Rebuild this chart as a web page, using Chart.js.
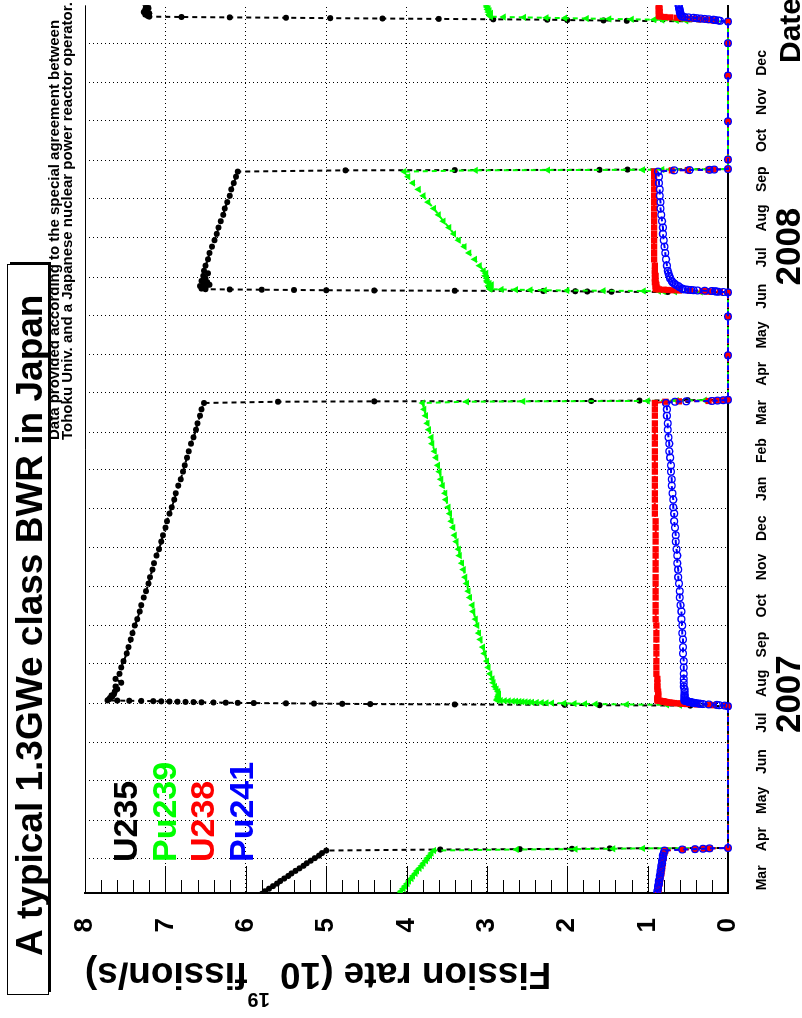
<!DOCTYPE html>
<html>
<head>
<meta charset="utf-8">
<title>A typical 1.3GWe class BWR in Japan</title>
<script src="https://cdn.jsdelivr.net/npm/chart.js@4.4.1/dist/chart.umd.min.js"></script>
<style>
  html, body { margin: 0; padding: 0; background: #fff; overflow: hidden; }
  /* the plot is drawn upright and then turned a quarter turn to the left */
  #plot { position: absolute; left: 0; top: 0; width: 1018px; height: 802px;
          transform-origin: 0 0; transform: translate(0, 1018px) rotate(-90deg); }
</style>
</head>
<body>
<div id="plot"><canvas id="rateChart" width="1018" height="802"></canvas></div>
<script>
// Dates as days counted from 1 March 2007
const days = [
  1, 3, 5, 7, 9, 11, 13, 15, 17, 19, 21, 23, 25, 27, 29, 31, 33, 35, 37,            // end of cycle
  37.8, 38.1, 38.4, 38.7, 39.0,                                                      // shutdown
  150.5,                                                                              // outage
  151.0, 151.3, 151.6, 151.9, 152.2, 152.4, 152.6, 152.8, 153.0, 153.15, 153.3, 153.45, // start-up
  153.6, 153.75, 153.9, 154.05, 154.2, 154.35, 154.5, 154.65, 154.8, 154.95, 155.1,
  156, 157, 158, 159, 160, 162, 164, 166, 169, 172, 176, 181, 186, 192, 197, 203,
  208, 214, 219, 225, 230, 236, 241, 247, 252, 258, 263, 269, 274, 280, 285, 291, 296,
  302, 307, 313, 318, 324, 329, 335, 340, 346, 351, 357, 362, 368, 373, 379, 384, 389,
  390.0, 390.3, 390.6, 390.9, 391.2, 391.5,                                          // shutdown
  426.5, 457.0, 476.0,                                                                // outage
  476.3, 476.5, 476.7, 476.9, 477.1, 477.3, 477.5, 477.7, 477.9, 478.1, 478.3, 478.5, // start-up
  479, 480, 481, 482, 483, 484, 485, 487, 489, 491, 493, 497,
  502, 507, 512, 517, 522, 527, 532, 537, 542, 547, 552, 557, 562, 567, 571,
  572.0, 572.2, 572.4, 572.6, 573.0,                                                 // shutdown
  580.5, 610.5, 646.5, 672.0, 689.0,                                                 // outage
  689.6, 689.9, 690.2, 690.5, 690.8, 691.1, 691.4, 691.7, 692.0, 692.3, 692.6, 692.9, // start-up
  693.5, 694.5, 695.5, 696.5, 697.5, 698.5, 699.5, 700.5, 701.5, 702.5
];

// Fission rates, 10^19 fission/s
const u235 = [
  5.85, 5.80, 5.76, 5.71, 5.66, 5.61, 5.57, 5.52, 5.47, 5.43, 5.38, 5.33, 5.28, 5.24, 5.19, 5.14, 5.09, 5.05, 5.00,
  3.58, 2.59, 1.94, 1.47, 0,
  0,
  0.47, 1.60, 2.03, 3.40, 4.45, 4.80, 5.15, 5.50, 5.90, 6.10, 6.25, 6.40,
  6.55, 6.65, 6.75, 6.85, 6.95, 7.05, 7.15, 7.30, 7.45, 7.60, 7.72,
  7.70, 7.69, 7.66, 7.67, 7.64, 7.63, 7.60, 7.62, 7.55, 7.62, 7.57, 7.55, 7.52, 7.48, 7.46, 7.43,
  7.41, 7.38, 7.35, 7.32, 7.30, 7.27, 7.24, 7.21, 7.19, 7.16, 7.14, 7.11, 7.08, 7.05, 7.03, 7.00, 6.98,
  6.95, 6.92, 6.89, 6.87, 6.84, 6.81, 6.78, 6.76, 6.73, 6.71, 6.68, 6.65, 6.62, 6.60, 6.57, 6.55, 6.52,
  5.60, 4.40, 1.70, 1.10, 0.50, 0,
  0, 0, 0,
  0.75, 1.45, 1.75, 1.90, 2.30, 3.40, 4.40, 5.00, 5.40, 5.80, 6.20, 6.50,
  6.55, 6.50, 6.57, 6.45, 6.52, 6.48, 6.55, 6.50, 6.53, 6.47, 6.52, 6.50,
  6.47, 6.45, 6.42, 6.39, 6.36, 6.34, 6.31, 6.28, 6.26, 6.23, 6.20, 6.18, 6.15, 6.12, 6.10,
  4.76, 3.40, 1.60, 1.25, 0,
  0, 0, 0, 0, 0,
  1.26, 1.55, 2.00, 2.25, 2.92, 3.60, 4.30, 4.95, 5.50, 6.20, 6.80, 7.20,
  7.22, 7.25, 7.20, 7.27, 7.23, 7.25, 7.21, 7.24, 7.22, 7.25
];
const pu239 = [
  4.12, 4.09, 4.07, 4.04, 4.02, 3.99, 3.97, 3.94, 3.92, 3.89, 3.87, 3.84, 3.81, 3.79, 3.76, 3.74, 3.71, 3.69, 3.66,
  2.63, 1.90, 1.43, 1.06, 0,
  0,
  0.17, 0.60, 0.76, 1.26, 1.65, 1.78, 1.91, 2.04, 2.19, 2.26, 2.32, 2.38,
  2.44, 2.48, 2.52, 2.56, 2.60, 2.64, 2.68, 2.73, 2.78, 2.83, 2.87,
  2.87, 2.86, 2.86, 2.85, 2.85, 2.86, 2.88, 2.90, 2.92, 2.93, 2.96, 2.98, 3.00, 3.03, 3.05, 3.08,
  3.10, 3.12, 3.14, 3.17, 3.18, 3.21, 3.23, 3.25, 3.27, 3.29, 3.31, 3.34, 3.35, 3.38, 3.40, 3.42, 3.44,
  3.46, 3.48, 3.51, 3.52, 3.55, 3.57, 3.59, 3.61, 3.63, 3.65, 3.68, 3.69, 3.72, 3.74, 3.76, 3.78, 3.80,
  3.25, 2.55, 1.00, 0.64, 0.29, 0,
  0, 0, 0,
  0.34, 0.66, 0.80, 0.86, 1.05, 1.55, 2.00, 2.28, 2.46, 2.64, 2.82, 2.96,
  2.96, 2.95, 2.98, 2.94, 2.97, 2.99, 3.00, 3.00, 3.02, 3.01, 3.04, 3.09,
  3.15, 3.22, 3.28, 3.35, 3.41, 3.47, 3.54, 3.60, 3.66, 3.73, 3.79, 3.85, 3.92, 3.98, 4.03,
  3.14, 2.24, 1.06, 0.82, 0,
  0, 0, 0, 0, 0,
  0.52, 0.64, 0.82, 0.92, 1.20, 1.48, 1.76, 2.03, 2.26, 2.54, 2.79, 2.95,
  2.96, 2.97, 2.95, 2.98, 2.97, 2.99, 2.98, 3.00, 3.00, 3.01
];
const u238 = [
  0.88, 0.87, 0.87, 0.86, 0.86, 0.85, 0.85, 0.84, 0.84, 0.83, 0.83, 0.82, 0.82, 0.81, 0.81, 0.80, 0.80, 0.79, 0.78,
  0.56, 0.41, 0.30, 0.23, 0,
  0,
  0.05, 0.18, 0.23, 0.39, 0.51, 0.55, 0.59, 0.63, 0.67, 0.70, 0.72, 0.74,
  0.76, 0.77, 0.78, 0.79, 0.80, 0.81, 0.82, 0.84, 0.85, 0.87, 0.88,
  0.88, 0.88, 0.87, 0.87, 0.87, 0.87, 0.88, 0.88, 0.88, 0.88, 0.89, 0.89, 0.89, 0.89, 0.89, 0.89,
  0.89, 0.89, 0.90, 0.90, 0.90, 0.90, 0.90, 0.90, 0.90, 0.90, 0.90, 0.90, 0.90, 0.90, 0.90, 0.90, 0.90,
  0.91, 0.91, 0.91, 0.91, 0.91, 0.91, 0.91, 0.91, 0.91, 0.91, 0.91, 0.91, 0.91, 0.91, 0.91, 0.91, 0.91,
  0.78, 0.61, 0.24, 0.15, 0.07, 0,
  0, 0, 0,
  0.10, 0.20, 0.24, 0.26, 0.32, 0.47, 0.61, 0.69, 0.75, 0.80, 0.86, 0.90,
  0.88, 0.89, 0.90, 0.89, 0.90, 0.91, 0.90, 0.91, 0.90, 0.91, 0.91, 0.91,
  0.92, 0.92, 0.92, 0.92, 0.92, 0.92, 0.92, 0.92, 0.92, 0.92, 0.92, 0.92, 0.92, 0.92, 0.92,
  0.70, 0.50, 0.24, 0.18, 0,
  0, 0, 0, 0, 0,
  0.15, 0.18, 0.23, 0.26, 0.34, 0.42, 0.50, 0.58, 0.64, 0.72, 0.79, 0.84,
  0.86, 0.85, 0.86, 0.85, 0.86, 0.86, 0.85, 0.86, 0.86, 0.86
];
const pu241 = [
  0.89, 0.88, 0.88, 0.87, 0.87, 0.86, 0.86, 0.85, 0.85, 0.84, 0.84, 0.83, 0.83, 0.82, 0.82, 0.81, 0.81, 0.80, 0.79,
  0.57, 0.41, 0.31, 0.23, 0,
  0,
  0.04, 0.11, 0.14, 0.24, 0.31, 0.34, 0.36, 0.39, 0.41, 0.42, 0.44, 0.45,
  0.46, 0.47, 0.48, 0.49, 0.50, 0.50, 0.51, 0.52, 0.53, 0.54, 0.54,
  0.54, 0.54, 0.54, 0.54, 0.54, 0.54, 0.54, 0.55, 0.55, 0.55, 0.55, 0.55, 0.55, 0.56, 0.56, 0.56,
  0.57, 0.57, 0.58, 0.58, 0.59, 0.60, 0.60, 0.61, 0.62, 0.62, 0.63, 0.63, 0.64, 0.65, 0.65, 0.66, 0.67,
  0.67, 0.68, 0.68, 0.69, 0.70, 0.70, 0.71, 0.71, 0.72, 0.73, 0.73, 0.74, 0.75, 0.75, 0.76, 0.76, 0.77,
  0.66, 0.52, 0.20, 0.13, 0.06, 0,
  0, 0, 0,
  0.06, 0.12, 0.15, 0.16, 0.20, 0.29, 0.38, 0.43, 0.46, 0.50, 0.53, 0.56,
  0.57, 0.60, 0.62, 0.65, 0.67, 0.69, 0.70, 0.72, 0.73, 0.74, 0.75, 0.76,
  0.77, 0.78, 0.79, 0.80, 0.81, 0.81, 0.82, 0.83, 0.84, 0.84, 0.85, 0.85, 0.86, 0.86, 0.87,
  0.67, 0.48, 0.23, 0.17, 0,
  0, 0, 0, 0, 0,
  0.10, 0.12, 0.16, 0.18, 0.24, 0.29, 0.34, 0.39, 0.43, 0.49, 0.54, 0.57,
  0.58, 0.59, 0.59, 0.60, 0.60, 0.60, 0.61, 0.61, 0.61, 0.62
];

// Date axis: one label per month from Mar 2007 to Dec 2008
const monthNames = ['Mar', 'Apr', 'May', 'Jun', 'Jul', 'Aug', 'Sep', 'Oct', 'Nov', 'Dec',
                    'Jan', 'Feb', 'Mar', 'Apr', 'May', 'Jun', 'Jul', 'Aug', 'Sep', 'Oct', 'Nov', 'Dec'];
const yearLabels = ['2007', '2008'];
const yearLabelDays = [160, 512];
const X_MIN = 3.6, X_MAX = 701.8;

const FONT = "'Liberation Sans', Arial, Helvetica, sans-serif";

function dayNum(y, m, d) {
  return (Date.UTC(y, m, d) - Date.UTC(2007, 2, 1)) / 86400000;
}
const monthStarts = monthNames.map((n, i) => dayNum(2007, 3 + i, 1));
const monthMids = monthNames.map((n, i) => (dayNum(2007, 2 + i, 1) + dayNum(2007, 3 + i, 1)) / 2);

function points(values) {
  return days.map((d, i) => ({ x: d, y: values[i] }));
}

const clipArea = { left: 0, top: 5, right: 0, bottom: 8 };

// Text, frame and inward ticks that ROOT puts around the plot
const decorations = {
  id: 'decorations',
  afterDraw(chart) {
    const { ctx, chartArea: area, scales } = chart;
    const x = scales.x, y = scales.y;
    ctx.save();
    ctx.strokeStyle = '#000';
    ctx.fillStyle = '#000';

    // top edge of the frame
    ctx.lineWidth = 1;
    ctx.beginPath();
    ctx.moveTo(area.left, area.top + 0.5);
    ctx.lineTo(area.right, area.top + 0.5);
    ctx.stroke();

    // rate axis ticks pointing into the frame
    for (let k = 0; k <= 40; k++) {
      const py = Math.round(y.getPixelForValue(k / 5)) + 0.5;
      const len = k % 5 === 0 ? 27 : 13;
      ctx.beginPath();
      ctx.moveTo(area.left, py);
      ctx.lineTo(area.left + len, py);
      ctx.stroke();
    }

    // title box with shadow
    ctx.fillRect(26, 10, 730, 41);
    ctx.fillStyle = '#fff';
    ctx.fillRect(23, 7, 730, 41);
    ctx.strokeRect(23.5, 7.5, 730, 41);
    ctx.fillStyle = '#000';
    ctx.font = 'bold 37px ' + FONT;
    ctx.textAlign = 'left';
    ctx.textBaseline = 'alphabetic';
    ctx.fillText('A typical 1.3GWe class BWR in Japan', 62, 42);

    // data source note
    ctx.font = 'bold 15px ' + FONT;
    ctx.fillText('Data provided according to the special agreement between', 578, 59);
    ctx.fillText('Tohoku Univ. and a Japanese nuclear power reactor operator.', 578, 72);

    // legend as coloured names
    ctx.font = 'bold 34px ' + FONT;
    chart.data.datasets.forEach((ds, i) => {
      ctx.fillStyle = ds.borderColor;
      ctx.fillText(ds.label, 156, 137 + i * 38.5);
    });

    // year labels under the month names
    ctx.fillStyle = '#000';
    ctx.font = 'bold 35px ' + FONT;
    ctx.textAlign = 'center';
    yearLabels.forEach((t, i) => ctx.fillText(t, x.getPixelForValue(yearLabelDays[i]), 800));

    // axis title of the date axis
    ctx.font = 'bold 30px ' + FONT;
    ctx.textAlign = 'left';
    ctx.fillText('Date', 955, 800);

    // rate axis title with the power of ten raised
    ctx.save();
    ctx.translate(55, area.top);
    ctx.rotate(-Math.PI / 2);
    const big = 'bold 37px ' + FONT, small = 'bold 20px ' + FONT;
    const p1 = 'Fission rate (10 ', p2 = '19', p3 = 'fission/s)';
    ctx.font = big;
    const w1 = ctx.measureText(p1).width, w3 = ctx.measureText(p3).width;
    ctx.font = small;
    const w2 = ctx.measureText(p2).width;
    let cx = -(w1 + w2 + w3);
    ctx.font = big;
    ctx.fillText(p1, cx, 0);
    cx += w1;
    ctx.font = small;
    ctx.fillText(p2, cx, -30);
    cx += w2;
    ctx.font = big;
    ctx.fillText(p3, cx, 0);
    ctx.restore();

    ctx.restore();
  }
};

const series = [
  { label: 'U235', values: u235, color: '#000000', style: 'circle', radius: 3, fill: '#000000', order: 3 },
  { label: 'Pu239', values: pu239, color: '#00ff00', style: 'triangle', radius: 4.2, fill: '#00ff00', order: 2 },
  { label: 'U238', values: u238, color: '#ff0000', style: 'rect', radius: 4.4, fill: '#ff0000', order: 1 },
  { label: 'Pu241', values: pu241, color: '#0000ff', style: 'circle', radius: 3.4, fill: 'rgba(255,255,255,0)', order: 0 }
];

const config = {
  type: 'line',
  data: {
    datasets: series.map(s => ({
      label: s.label,
      data: points(s.values),
      borderColor: s.color,
      backgroundColor: s.color,
      borderWidth: 2,
      borderDash: [5, 4],
      tension: 0,
      pointStyle: s.style,
      pointRadius: s.radius,
      pointBackgroundColor: s.fill,
      pointBorderColor: s.color,
      pointBorderWidth: s.label === 'Pu241' ? 1.3 : 0,
      order: s.order,
      clip: clipArea
    }))
  },
  options: {
    responsive: false,
    animation: false,
    devicePixelRatio: 1,
    layout: { padding: { top: 85, right: 0, bottom: 0, left: 0 } },
    plugins: { legend: { display: false }, tooltip: { enabled: false }, title: { display: false } },
    scales: {
      x: {
        type: 'linear', position: 'bottom', min: X_MIN, max: X_MAX,
        afterBuildTicks: s => { s.ticks = monthMids.map(v => ({ value: v })); },
        afterFit: s => { s.height = 74; },
        ticks: {
          autoSkip: false, maxRotation: 0, color: '#000', padding: 18,
          font: { family: FONT, size: 14, weight: 'bold' },
          callback: (v, i) => monthNames[i]
        },
        grid: { display: false },
        border: { display: true, color: '#000', width: 2 }
      },
      xg: {
        type: 'linear', position: 'top', min: X_MIN, max: X_MAX,
        afterBuildTicks: s => { s.ticks = monthStarts.map(v => ({ value: v })); },
        afterFit: s => { s.height = 0; },
        ticks: { display: false },
        grid: { color: '#000', lineWidth: 1, drawTicks: false },
        border: { display: false, dash: [1, 3] }
      },
      y: {
        min: 0, max: 8,
        afterFit: s => { s.width = 125; },
        ticks: { stepSize: 1, color: '#000', padding: 25, font: { family: FONT, size: 26, weight: 'bold' } },
        grid: { color: '#000', lineWidth: 1, drawTicks: false },
        border: { display: true, color: '#000', width: 2, dash: [1, 3] }
      }
    }
  },
  plugins: [decorations]
};

document.addEventListener('DOMContentLoaded', () => {
  const canvas = document.getElementById('rateChart');
  if (canvas) {
    new Chart(canvas, config);
  } else {
    console.error('Canvas element with id "rateChart" not found.');
  }
});
</script>
</body>
</html>
